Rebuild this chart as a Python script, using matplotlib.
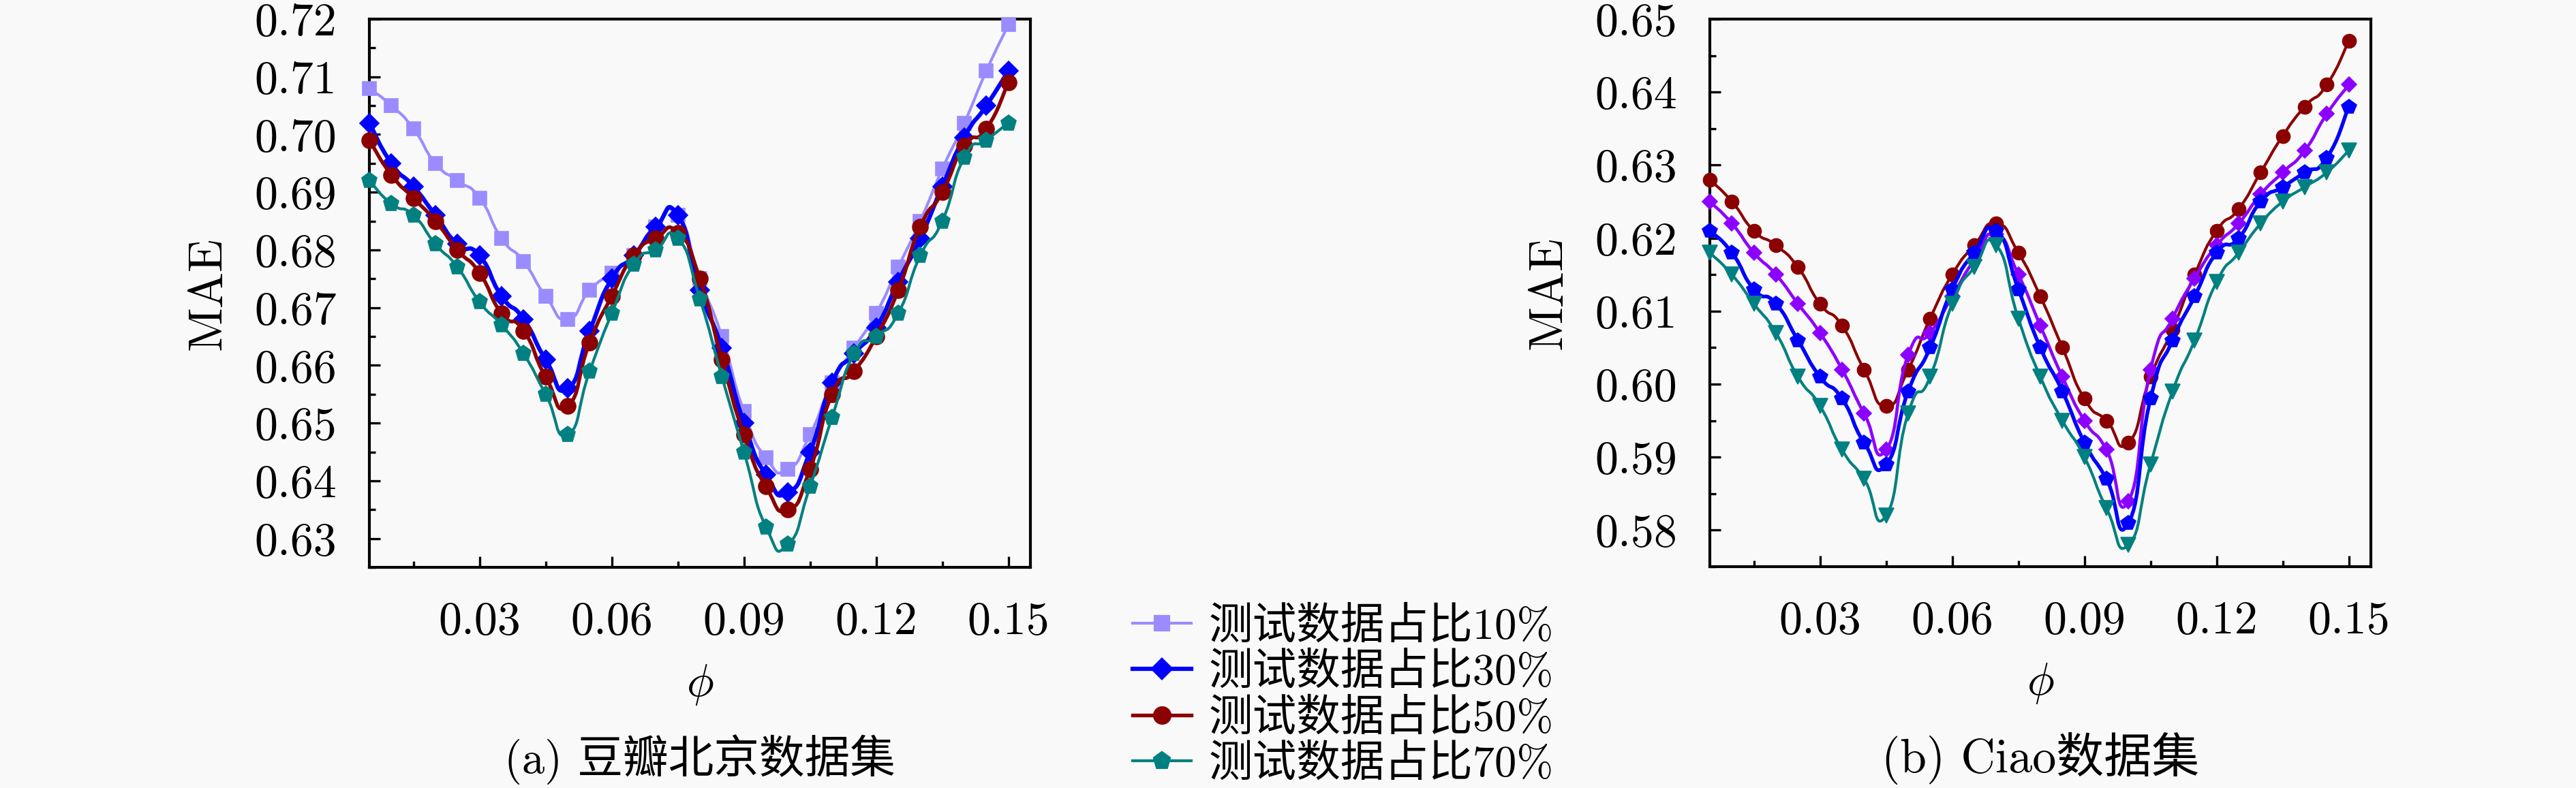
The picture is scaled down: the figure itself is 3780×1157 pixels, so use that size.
import numpy as np
import matplotlib
matplotlib.use("Agg")
import matplotlib.pyplot as plt
from matplotlib.path import Path
from matplotlib.patches import PathPatch
from matplotlib.lines import Line2D
from matplotlib.ticker import FixedLocator, FormatStrFormatter

plt.rcParams['font.family'] = ['cmr10', 'Noto Sans CJK SC', 'DejaVu Sans']
plt.rcParams['mathtext.fontset'] = 'cm'
plt.rcParams['axes.formatter.use_mathtext'] = True

# ---------------- data ----------------
phi = [0.005, 0.010, 0.015, 0.020, 0.025, 0.030, 0.035, 0.040, 0.045, 0.050,
       0.055, 0.060, 0.065, 0.070, 0.075, 0.080, 0.085, 0.090, 0.095, 0.100,
       0.105, 0.110, 0.115, 0.120, 0.125, 0.130, 0.135, 0.140, 0.145, 0.150]

# (a) Douban Beijing
douban_10 = [0.708, 0.705, 0.701, 0.695, 0.692, 0.689, 0.682, 0.678, 0.672, 0.668,
             0.673, 0.676, 0.679, 0.684, 0.686, 0.675, 0.665, 0.652, 0.644, 0.642,
             0.648, 0.657, 0.663, 0.669, 0.677, 0.685, 0.694, 0.702, 0.711, 0.719]
douban_30 = [0.702, 0.695, 0.691, 0.686, 0.681, 0.679, 0.672, 0.668, 0.661, 0.656,
             0.666, 0.675, 0.679, 0.684, 0.686, 0.673, 0.663, 0.650, 0.641, 0.638,
             0.645, 0.657, 0.662, 0.6665, 0.6745, 0.682, 0.691, 0.6995, 0.705, 0.711]
douban_50 = [0.699, 0.693, 0.689, 0.685, 0.680, 0.676, 0.669, 0.666, 0.658, 0.653,
             0.664, 0.672, 0.679, 0.682, 0.683, 0.675, 0.661, 0.648, 0.639, 0.635,
             0.642, 0.655, 0.659, 0.665, 0.673, 0.684, 0.690, 0.698, 0.701, 0.709]
douban_70 = [0.692, 0.688, 0.686, 0.681, 0.677, 0.671, 0.667, 0.662, 0.655, 0.648,
             0.659, 0.669, 0.6775, 0.680, 0.682, 0.6715, 0.658, 0.645, 0.632, 0.629,
             0.639, 0.651, 0.662, 0.665, 0.669, 0.679, 0.685, 0.696, 0.699, 0.702]

# (b) Ciao
ciao_red = [0.628, 0.625, 0.621, 0.619, 0.616, 0.611, 0.608, 0.602, 0.597, 0.602,
            0.609, 0.615, 0.619, 0.622, 0.618, 0.612, 0.605, 0.598, 0.595, 0.592,
            0.601, 0.6075, 0.615, 0.621, 0.624, 0.629, 0.634, 0.638, 0.641, 0.647]
ciao_violet = [0.625, 0.622, 0.618, 0.615, 0.611, 0.607, 0.602, 0.596, 0.591, 0.604,
               0.607, 0.612, 0.617, 0.6205, 0.615, 0.608, 0.601, 0.595, 0.591, 0.584,
               0.602, 0.609, 0.6145, 0.619, 0.622, 0.626, 0.629, 0.632, 0.637, 0.641]
ciao_blue = [0.621, 0.618, 0.613, 0.611, 0.606, 0.601, 0.598, 0.592, 0.589, 0.599,
             0.605, 0.613, 0.618, 0.621, 0.613, 0.605, 0.599, 0.592, 0.587, 0.581,
             0.598, 0.606, 0.612, 0.618, 0.620, 0.625, 0.627, 0.629, 0.631, 0.638]
ciao_teal = [0.618, 0.615, 0.611, 0.607, 0.601, 0.597, 0.591, 0.587, 0.582, 0.596,
             0.601, 0.611, 0.616, 0.619, 0.609, 0.601, 0.595, 0.590, 0.583, 0.578,
             0.589, 0.599, 0.606, 0.614, 0.618, 0.622, 0.625, 0.627, 0.629, 0.632]

legend_labels = ['测试数据占比10%', '测试数据占比30%', '测试数据占比50%', '测试数据占比70%']
x_ticks = [0.03, 0.06, 0.09, 0.12, 0.15]
yticks_a = [0.63, 0.64, 0.65, 0.66, 0.67, 0.68, 0.69, 0.70, 0.71, 0.72]
yticks_b = [0.58, 0.59, 0.60, 0.61, 0.62, 0.63, 0.64, 0.65]
caption_a = '(a) 豆瓣北京数据集'
caption_b = '(b) Ciao数据集'

# ---------------- style ----------------
BG = '#f9f9f9'
C_LAV = '#9a8cff'
C_BLUE = '#0000ff'
C_RED = '#8b0000'
C_TEAL = '#008080'
C_VIO = '#8c00ff'
FS = 16.3


def smooth_path(x, y, k=0.3):
    pts = np.column_stack([np.asarray(x, float), np.asarray(y, float)])
    n = len(pts)
    verts = [pts[0]]
    codes = [Path.MOVETO]
    for i in range(n - 1):
        p_prev = pts[i - 1] if i > 0 else pts[i]
        p_nn = pts[i + 2] if i + 2 < n else pts[i + 1]
        c1 = pts[i] + k * (pts[i + 1] - p_prev)
        c2 = pts[i + 1] - k * (p_nn - pts[i])
        verts += [c1, c2, pts[i + 1]]
        codes += [Path.CURVE4] * 3
    return Path(verts, codes)


def draw_series(ax, x, y, color, lw, marker, ms, z):
    patch = PathPatch(smooth_path(x, y), facecolor='none', edgecolor=color,
                      lw=lw, transform=ax.transData, zorder=z, capstyle='round',
                      joinstyle='round')
    ax.add_patch(patch)
    ax.plot(x, y, linestyle='none', marker=marker, ms=ms, color=color,
            mec=color, mew=0.4, zorder=z + 0.5, clip_on=False)


def style_axes(ax, ylim, yticks):
    ax.set_facecolor(BG)
    ax.set_xlim(0.005, 0.155)
    ax.set_ylim(*ylim)
    ax.xaxis.set_major_locator(FixedLocator(x_ticks))
    ax.xaxis.set_minor_locator(FixedLocator([0.015, 0.045, 0.075, 0.105, 0.135]))
    ax.yaxis.set_major_locator(FixedLocator(yticks))
    minors = [round(t + 0.005, 3) for t in yticks[:-1]]
    if ylim[0] < yticks[0]:
        minors = [round(yticks[0] - 0.005, 3)] + minors
    ax.yaxis.set_minor_locator(FixedLocator(minors))
    ax.xaxis.set_major_formatter(FormatStrFormatter('%.2f'))
    ax.yaxis.set_major_formatter(FormatStrFormatter('%.2f'))
    ax.tick_params(which='both', direction='in', top=False, right=False,
                   labelsize=FS, width=0.8)
    ax.tick_params(which='major', length=3.9)
    ax.tick_params(which='minor', length=2.2)
    ax.tick_params(axis='x', which='major', pad=12)
    ax.tick_params(axis='y', which='major', pad=11.5)
    for s in ax.spines.values():
        s.set_linewidth(1.0)
    ax.text(-0.243, 0.5, 'MAE', transform=ax.transAxes, rotation=90,
            ha='center', va='center', fontsize=17)
    ax.text(0.5, -0.2137, r'$\phi$', transform=ax.transAxes,
            ha='center', va='center', fontsize=16)


fig = plt.figure(figsize=(12.6, 3.8567), dpi=300, facecolor=BG)
axA = fig.add_axes([542 / 3780, 1 - 833 / 1157, 970 / 3780, 805 / 1157])
axB = fig.add_axes([2509 / 3780, 1 - 832 / 1157, 970 / 3780, 804 / 1157])

style_axes(axA, (0.625, 0.72), yticks_a)
style_axes(axB, (0.575, 0.65), yticks_b)

draw_series(axA, phi, douban_10, C_LAV, 1.0, 's', 5.0, 3)
draw_series(axA, phi, douban_30, C_BLUE, 1.5, 'D', 4.7, 4)
draw_series(axA, phi, douban_50, C_RED, 1.3, 'o', 5.5, 5)
draw_series(axA, phi, douban_70, C_TEAL, 1.0, 'p', 5.8, 6)

draw_series(axB, phi, ciao_red, C_RED, 1.0, 'o', 4.8, 3)
draw_series(axB, phi, ciao_violet, C_VIO, 1.1, 'D', 3.9, 4)
draw_series(axB, phi, ciao_blue, C_BLUE, 1.3, 'p', 5.3, 5)
draw_series(axB, phi, ciao_teal, C_TEAL, 1.0, 'v', 5.3, 6)

axA.text(0.5, -0.3503, caption_a, transform=axA.transAxes, ha='center',
         va='center', fontsize=16)
axB.text(0.5, -0.3503, caption_b, transform=axB.transAxes, ha='center',
         va='center', fontsize=16.8)

handles = [
    Line2D([], [], color=C_LAV, lw=1.0, marker='s', ms=5.0, mec=C_LAV),
    Line2D([], [], color=C_BLUE, lw=1.5, marker='D', ms=4.7, mec=C_BLUE),
    Line2D([], [], color=C_RED, lw=1.3, marker='o', ms=5.5, mec=C_RED),
    Line2D([], [], color=C_TEAL, lw=1.0, marker='p', ms=5.8, mec=C_TEAL),
]
fig.legend(handles, legend_labels, loc='center', bbox_to_anchor=(0.5215, 0.1167),
           frameon=False, fontsize=15.5, handlelength=1.33, handletextpad=0.4,
           labelspacing=0.12, borderpad=0.0)

fig.savefig('out.png', dpi=300, facecolor=BG)
